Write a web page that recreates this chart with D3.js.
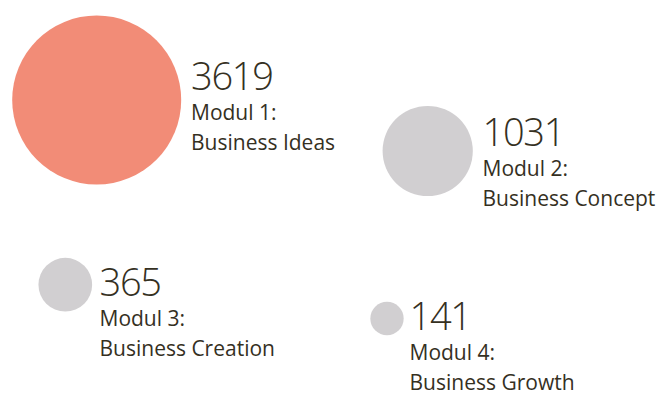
<!DOCTYPE html>
<html>
<head>
<meta charset="utf-8">
<script src="https://cdn.jsdelivr.net/npm/d3@7"></script>
<style>
  html, body { margin: 0; padding: 0; background: #fff; }
  svg { display: block; }
</style>
</head>
<body>
<svg id="chart" width="667" height="403"></svg>
<script>
// ---- data ----
const modules = ["Modul 1:", "Modul 2:", "Modul 3:", "Modul 4:"];
const names = ["Business Ideas", "Business Concept", "Business Creation", "Business Growth"];
const values = [3619, 1031, 365, 141];

// ---- layout (centres & label anchors) ----
const centersX = [96.7, 427.7, 65.3, 387];
const centersY = [100, 151, 284.7, 318.5];
const labelX = [191, 482.5, 99.5, 409.5];
const labelBaseY = [90, 146, 296, 330];

const colorHighlight = "#F28C77";
const colorOther = "#D1CFD1";
const textColor = "#35301f";

const svg = d3.select("#chart");

const r = d3.scaleSqrt().domain([0, d3.max(values)]).range([0, 84.5]);

const data = values.map((v, i) => ({
  value: v, module: modules[i], name: names[i],
  cx: centersX[i], cy: centersY[i], lx: labelX[i], by: labelBaseY[i], i
}));

const g = svg.selectAll("g.item").data(data).join("g").attr("class", "item");

g.append("circle")
  .attr("cx", d => d.cx)
  .attr("cy", d => d.cy)
  .attr("r", d => r(d.value))
  .attr("fill", d => d.i === 0 ? colorHighlight : colorOther);

const fontFamily = "'Open Sans', 'Noto Sans', sans-serif";

const label = g.append("text")
  .attr("x", d => d.lx)
  .attr("y", d => d.by)
  .attr("font-family", fontFamily)
  .attr("fill", textColor);

label.append("tspan")
  .attr("x", d => d.lx)
  .attr("y", d => d.by)
  .attr("font-weight", 300)
  .attr("font-size", 38)
  .attr("letter-spacing", -1.3)
  .text(d => d.value);

label.append("tspan")
  .attr("x", d => d.lx)
  .attr("y", d => d.by + 29.5)
  .attr("font-weight", 400)
  .attr("font-size", 21)
  .text(d => d.module);

label.append("tspan")
  .attr("x", d => d.lx)
  .attr("y", d => d.by + 59.5)
  .attr("font-weight", 400)
  .attr("font-size", 21)
  .text(d => d.name);
</script>
</body>
</html>
